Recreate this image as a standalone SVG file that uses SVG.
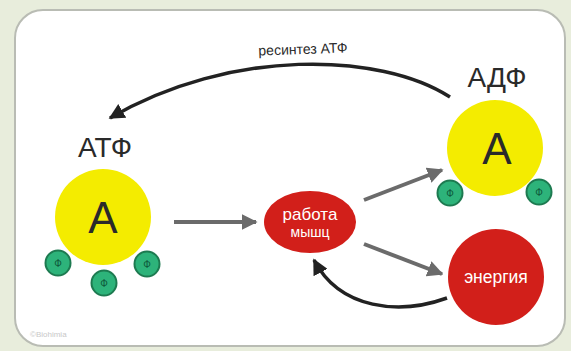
<svg xmlns="http://www.w3.org/2000/svg" width="571" height="351" viewBox="0 0 571 351">
<defs>
<marker id="ahg" viewBox="0 0 10 10" refX="9" refY="5" markerWidth="4" markerHeight="4" orient="auto"><path d="M0,0 L10,5 L0,10 z" fill="#6b6b6b"/></marker>
<marker id="ahk" viewBox="0 0 10 10" refX="9" refY="5" markerWidth="4.5" markerHeight="4.5" orient="auto"><path d="M0,0 L10,5 L0,10 z" fill="#222"/></marker>
</defs>
<style>
.big{font-family:"Liberation Sans",Arial,sans-serif;fill:#2a2a2a;text-anchor:middle}
.yel{fill:#f4ec00}
.ph{fill:#2db37a;stroke:#1d7a50;stroke-width:2}
.pht{font-family:"Liberation Sans",Arial,sans-serif;font-size:10px;fill:#0e5a3a;text-anchor:middle}
.red{fill:#d21f1a}
.wt{font-family:"Liberation Sans",Arial,sans-serif;fill:#fff;text-anchor:middle}
.g{stroke:#6b6b6b;stroke-width:4;fill:none}
.k{stroke:#222;stroke-width:3.5;fill:none}
</style>
<rect x="0" y="0" width="571" height="351" fill="#e8eddc"/>
<rect x="15" y="10" width="550" height="336" rx="28" fill="#ffffff" stroke="#b9bcb4" stroke-width="2"/>
<g id="connectors">
<line class="g" x1="174" y1="222" x2="256" y2="222" marker-end="url(#ahg)"/>
<line class="g" x1="364" y1="200" x2="442" y2="170" marker-end="url(#ahg)"/>
<line class="g" x1="364" y1="244" x2="442" y2="274" marker-end="url(#ahg)"/>
<path class="k" d="M447,298 C400,315 340,310 314,260" marker-end="url(#ahk)"/>
<path class="k" d="M450,97 C380,52 230,48 110,118" marker-end="url(#ahk)"/>
<text x="303" y="54" class="big" font-size="14" fill="#333" transform="rotate(-2 303 50)">ресинтез АТФ</text>
</g>
<g id="atp">
<text x="105" y="157" class="big" font-size="28">АТФ</text>
<circle class="yel" cx="103" cy="217" r="48"/>
<text x="103" y="233" class="big" font-size="44" fill="#1a1a1a">А</text>
<circle class="ph" cx="58" cy="263" r="12.5"/><text x="58" y="267" class="pht">Ф</text>
<circle class="ph" cx="104" cy="283" r="12.5"/><text x="104" y="287" class="pht">Ф</text>
<circle class="ph" cx="147" cy="264" r="12.5"/><text x="147" y="268" class="pht">Ф</text>
</g>
<g id="work">
<ellipse class="red" cx="310" cy="222" rx="46" ry="31"/>
<text x="310" y="220" class="wt" font-size="17">работа</text>
<text x="310" y="237" class="wt" font-size="14">мышц</text>
</g>
<g id="adp">
<text x="497" y="87" class="big" font-size="28">АДФ</text>
<circle class="yel" cx="495" cy="148" r="48"/>
<text x="497" y="164" class="big" font-size="44" fill="#1a1a1a">А</text>
<circle class="ph" cx="450" cy="193" r="12.5"/><text x="450" y="197" class="pht">Ф</text>
<circle class="ph" cx="539" cy="192" r="12.5"/><text x="539" y="196" class="pht">Ф</text>
</g>
<g id="energy">
<circle class="red" cx="496" cy="277" r="48"/>
<text x="496" y="283" class="wt" font-size="17.5">энергия</text>
</g>
<text x="30" y="337" font-family="Liberation Sans,Arial,sans-serif" font-size="8" fill="#c8c8c8">©Biohimia</text>
</svg>
